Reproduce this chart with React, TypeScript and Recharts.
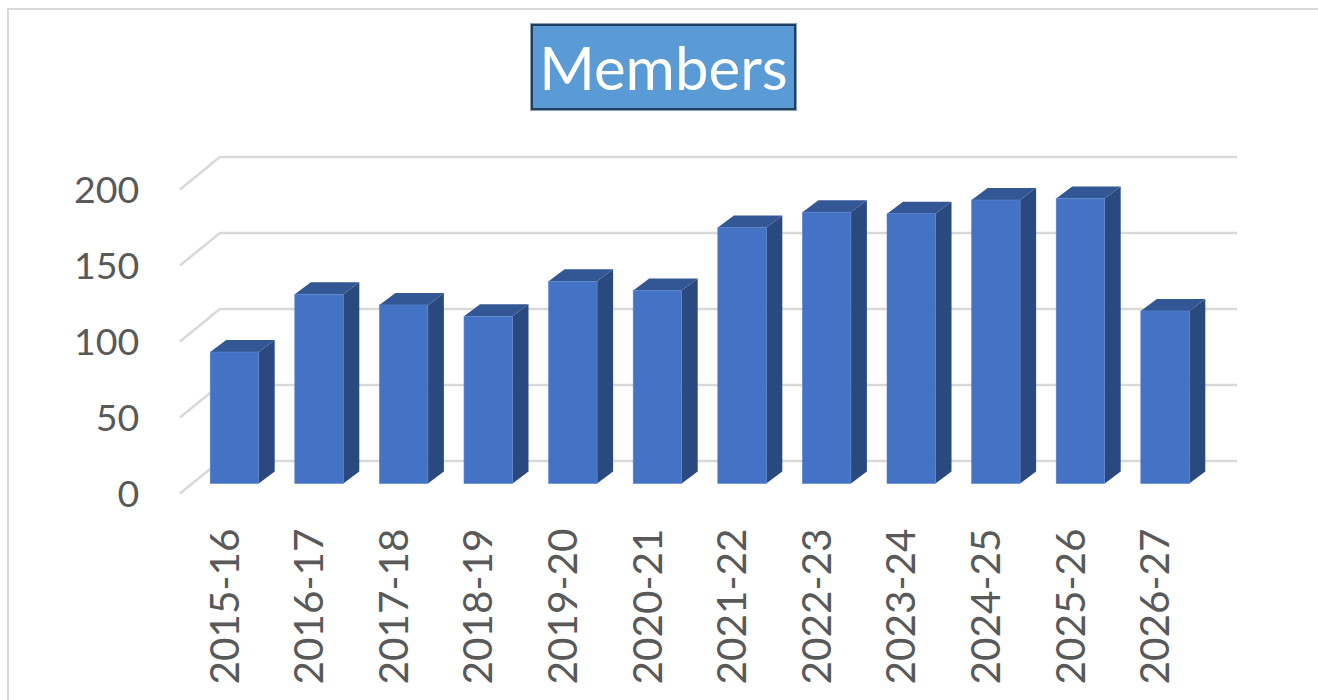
// App.tsx
import React from "react";
import { BarChart, Bar, XAxis, YAxis, CartesianGrid } from "recharts";

const seasons = [
  "2015-16", "2016-17", "2017-18", "2018-19", "2019-20", "2020-21",
  "2021-22", "2022-23", "2023-24", "2024-25", "2025-26", "2026-27",
];
const members = [86.5, 124.5, 117.5, 110, 133, 127, 168.5, 178.5, 177.5, 186.5, 187.5, 113.5];
const yTicks = [0, 50, 100, 150, 200];

const data = seasons.map((season, i) => ({ season, members: members[i] }));

const FONT = "Lato, sans-serif";
const TICK_COLOR = "#595959";
const GRID_COLOR = "#D9D9D9";

// fake 3D: each gridline runs from the front floor edge back to the wall
const GridLine = (props: any) => {
  const { x1, x2, y1, key } = props;
  return (
    <polyline
      key={key}
      points={`${x1 - 12.3},${y1 + 10} ${x1 + 27.7},${y1 - 22.5} ${x2 + 29.6},${y1 - 22.5}`}
      fill="none"
      stroke={GRID_COLOR}
      strokeWidth={2.5}
    />
  );
};

const Box3D = (props: any) => {
  const { x, y, width, height } = props;
  const dx = 16;
  const dy = 12;
  const r = x + width;
  const b = y + height;
  return (
    <g>
      <polygon points={`${x},${y} ${x + dx},${y - dy} ${r + dx},${y - dy} ${r},${y}`} fill="#335795" />
      <polygon points={`${r},${y} ${r + dx},${y - dy} ${r + dx},${b - dy} ${r},${b}`} fill="#2A4A7F" />
      <rect x={x} y={y} width={width} height={height} fill="#4472C4" stroke="#5b82cc" strokeWidth={0.6} />
    </g>
  );
};

const YTick = (props: any) => {
  const { x, y, payload } = props;
  return (
    <text x={x - 45} y={y + 10} dy={13.5} textAnchor="end" fontFamily={FONT} fontSize={37.5} fill={TICK_COLOR}>
      {payload.value}
    </text>
  );
};

const XTick = (props: any) => {
  const { x, y, payload } = props;
  const tx = x + 4;
  const ty = y + 43;
  return (
    <text
      x={tx}
      y={ty}
      textAnchor="end"
      transform={`rotate(-90 ${tx} ${ty})`}
      fontFamily={FONT}
      fontSize={40.5}
      fill={TICK_COLOR}
    >
      {payload.value}
    </text>
  );
};

export default function App() {
  return (
    <div style={{ position: "absolute", left: 0, top: 0, width: 1318, height: 700, overflow: "hidden", background: "#fff" }}>
      {/* chart frame, only the left and top edges are in view */}
      <div style={{ position: "absolute", left: 7, top: 8, right: 0, bottom: 0, borderLeft: `2px solid ${GRID_COLOR}`, borderTop: `2px solid ${GRID_COLOR}` }} />
      <div
        style={{
          position: "absolute",
          left: 531,
          top: 24,
          width: 265,
          height: 86,
          boxSizing: "border-box",
          background: "#5B9BD5",
          border: "2px solid #1F3F60",
          boxShadow: "0 0 0 1px #8ba0b4",
          color: "#fff",
          fontFamily: FONT,
          fontSize: 60,
          lineHeight: "82px",
          textAlign: "center",
          whiteSpace: "nowrap",
        }}
      >
        Members
      </div>
      <div style={{ position: "absolute", left: 0, top: 0 }}>
        <BarChart
          width={1318}
          height={700}
          data={data}
          barSize={48.5}
          margin={{ top: 179.5, right: 110.6, bottom: 116.5, left: 132.2 }}
        >
          <CartesianGrid horizontal={GridLine} vertical={false} />
          <XAxis dataKey="season" interval={0} axisLine={false} tickLine={false} tickSize={0} height={100} tick={<XTick />} />
          <YAxis domain={[0, 200]} ticks={yTicks} axisLine={false} tickLine={false} width={60} tick={<YTick />} />
          <Bar dataKey="members" shape={<Box3D />} isAnimationActive={false} />
        </BarChart>
      </div>
    </div>
  );
}
